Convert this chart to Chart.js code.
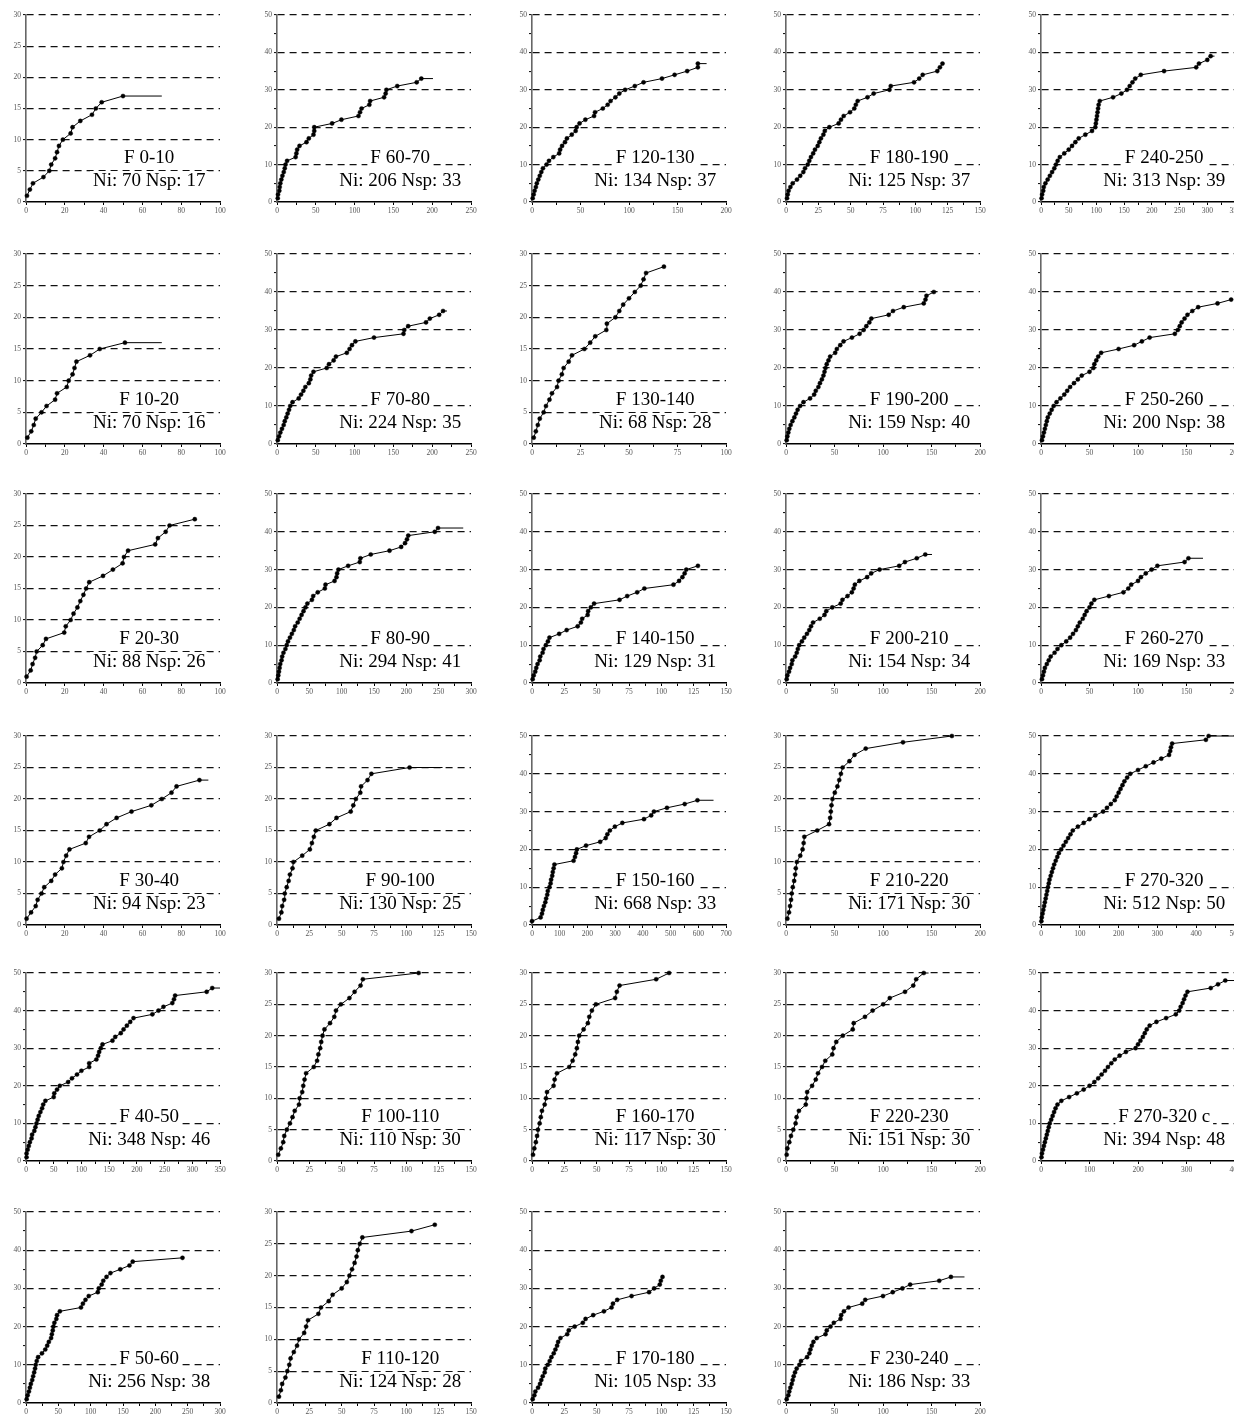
<!DOCTYPE html>
<html>
<head>
<meta charset="utf-8">
<script src="https://cdn.jsdelivr.net/npm/chart.js@4.4.0/dist/chart.umd.min.js"></script>
<style>
html,body{margin:0;padding:0;background:#fff;}
body{width:1234px;height:1414px;position:relative;overflow:hidden;}
.panel{position:absolute;}
.panel canvas{display:block;}
</style>
</head>
<body>
<script>
// species accumulation curves: [individuals, species]
const f0_10 = [[0.5,1],[2,2],[3.6,3],[9,4],[12,5],[13,6],[15,7],[16,8],[17,9],[19,10],[23,11],[24,12],[28,13],[34,14],[36,15],[39,16],[50,17]];
const f10_20 = [[0.7,1],[2.7,2],[4,3],[5,4],[8,5],[10.6,6],[15,7],[16,8],[21,9],[22,10],[24,11],[25,12],[26,13],[33,14],[38,15],[51,16]];
const f20_30 = [[0.3,1],[2.4,2],[3.4,3],[4.7,4],[5.5,5],[8.6,6],[10.3,7],[19.7,8],[20.5,9],[23,10],[24.5,11],[26.5,12],[28,13],[29.6,14],[31,15],[32.6,16],[39.7,17],[44.8,18],[49.8,19],[50.5,20],[52.6,21],[66.6,22],[68,23],[72,24],[74,25],[87,26]];
const f30_40 = [[0.3,1],[2.6,2],[5,3],[6,4],[8,5],[9.4,6],[13,7],[15,8],[18.5,9],[19.3,10],[20.7,11],[22.4,12],[30.8,13],[32.5,14],[38,15],[41.5,16],[46.7,17],[54.4,18],[64.6,19],[70,20],[75,21],[77.6,22],[89.4,23]];
const f40_50 = [[1,1],[1,2],[3,3],[5,4],[7,5],[10,6],[11,7],[15,8],[17,9],[19,10],[21,11],[23,12],[26,13],[29,14],[31,15],[35,16],[50,17],[51,18],[56,19],[61,20],[76,21],[83,22],[92,23],[100,24],[114,25],[114,26],[127,27],[130,28],[132,29],[135,30],[138,31],[156,32],[161,33],[171,34],[176,35],[182,36],[188,37],[194,38],[228,39],[239,40],[248,41],[264,42],[267,43],[269,44],[326,45],[336,46]];
const f50_60 = [[1,1],[2.5,2],[4.5,3],[6,4],[7.5,5],[9.6,6],[11,7],[12.6,8],[14,9],[15,10],[16.6,11],[18.7,12],[24.7,13],[29.8,14],[32.8,15],[35.3,16],[38.8,17],[40,18],[41.4,19],[42.4,20],[43.9,21],[46.9,22],[48,23],[52.4,24],[85,25],[88,26],[92,27],[97,28],[111,29],[112.5,30],[117,31],[119.5,32],[124.5,33],[130.6,34],[145.7,35],[160,36],[165,37],[242,38]];
const f60_70 = [[1,1],[1.3,2],[3,3],[3.5,4],[4.3,5],[5.6,6],[7,7],[8.7,8],[10,9],[11,10],[13,11],[24,12],[25,13],[26,14],[29,15],[38,16],[41,17],[47,18],[48,19],[48,20],[71,21],[83,22],[105,23],[107,24],[109,25],[119,26],[120,27],[138,28],[140,29],[141,30],[155,31],[180,32],[186,33]];
const f70_80 = [[1,1],[2.6,2],[4.3,3],[6.4,4],[8.6,5],[10,6],[12,7],[13.7,8],[15.5,9],[17,10],[20,11],[28,12],[31,13],[34,14],[36.5,15],[41,16],[43,17],[44,18],[47,19],[64,20],[67,21],[73,22],[76,23],[90,24],[93.5,25],[96.6,26],[101,27],[125,28],[163,29],[164,30],[169,31],[192,32],[197,33],[209,34],[214,35]];
const f80_90 = [[1,1],[2,2],[3,3],[4,4],[5,5],[7,6],[8,7],[10,8],[13,9],[15,10],[17,11],[20,12],[23,13],[26,14],[28,15],[32,16],[35,17],[38,18],[41,19],[44,20],[47,21],[54,22],[56,23],[63,24],[74,25],[75,26],[89,27],[92,28],[93,29],[95,30],[110,31],[128,32],[129,33],[145,34],[174,35],[192,36],[198,37],[201,38],[203,39],[244,40],[249,41]];
const f90_100 = [[1.5,1],[3.4,2],[4,3],[5.5,4],[6,5],[7.5,6],[9,7],[10,8],[12,9],[12.7,10],[19.5,11],[25.4,12],[27,13],[28.5,14],[30,15],[40.5,16],[46,17],[57,18],[59,19],[61,20],[64.4,21],[65,22],[70,23],[73,24],[102.5,25]];
const f100_110 = [[1,1],[3,2],[4.8,3],[5.6,4],[7.6,5],[10,6],[12,7],[13.7,8],[17,9],[17.5,10],[19.5,11],[20.3,12],[21.3,13],[22.5,14],[28.4,15],[31,16],[32,17],[33.4,18],[34.2,19],[35.2,20],[36.7,21],[41,22],[44.3,23],[45.6,24],[49.4,25],[56,26],[60,27],[64.6,28],[66.4,29],[109.5,30]];
const f110_120 = [[1.5,1],[3,2],[4,3],[6.5,4],[8,5],[9.5,6],[10.5,7],[13,8],[15.5,9],[17,10],[21,11],[22.5,12],[24,13],[32,14],[34,15],[40,16],[43,17],[50,18],[54,19],[56,20],[58,21],[60,22],[61.5,23],[62.5,24],[64,25],[66,26],[104,27],[122,28]];
const f120_130 = [[0.7,1],[1.7,2],[2.7,3],[4,4],[5,5],[6.5,6],[8,7],[9.6,8],[11.3,9],[15,10],[17.5,11],[22,12],[28,13],[29,14],[31,15],[34,16],[36,17],[41,18],[45,19],[46,20],[49,21],[55,22],[64,23],[65,24],[73,25],[78,26],[81,27],[86,28],[90,29],[96,30],[106,31],[115,32],[134,33],[147,34],[160,35],[171,36],[171,37]];
const f130_140 = [[0.9,1],[2,2],[3,3],[4,4],[6,5],[7.2,6],[9,7],[10.3,8],[12.9,9],[13.7,10],[15.4,11],[16.3,12],[18.9,13],[20.6,14],[27,15],[30,16],[32.6,17],[38.3,18],[38.6,19],[43,20],[45,21],[47,22],[50,23],[53,24],[56,25],[57.5,26],[58.8,27],[68,28]];
const f140_150 = [[0.5,1],[1.3,2],[2.5,3],[3.3,4],[4.3,5],[5.9,6],[6.4,7],[8.2,8],[8.9,9],[10.7,10],[12.3,11],[13.5,12],[21,13],[26.8,14],[35.3,15],[37.8,16],[38.8,17],[43,18],[43.4,19],[45.5,20],[48,21],[67.7,22],[73.6,23],[81.3,24],[86.9,25],[109.4,26],[113.7,27],[116.3,28],[118,29],[119.3,30],[128.3,31]];
const f150_160 = [[0,1],[31,2],[36,3],[39,4],[43,5],[48,6],[51,7],[55,8],[57,9],[63,10],[67,11],[69,12],[73,13],[75,14],[78,15],[81,16],[150,17],[155,18],[159,19],[162,20],[195,21],[246,22],[266,23],[272,24],[281,25],[299,26],[326,27],[404,28],[430,29],[440,30],[487,31],[551,32],[597,33]];
const f160_170 = [[0.8,1],[1.8,2],[3,3],[3.9,4],[4.6,5],[5.9,6],[6.8,7],[7.7,8],[9.8,9],[10.8,10],[11.6,11],[16.7,12],[17.5,13],[19.3,14],[28.8,15],[31.4,16],[33.4,17],[34.7,18],[35.5,19],[36.5,20],[39.9,21],[43.2,22],[44.3,23],[46.3,24],[49.4,25],[64.3,26],[65.6,27],[67.7,28],[96,29],[106,30]];
const f170_180 = [[0.5,1],[1.8,2],[2.6,3],[4.7,4],[6.2,5],[7.2,6],[8.3,7],[9.8,8],[10.3,9],[12.2,10],[13.7,11],[15,12],[16.8,13],[18.1,14],[19.4,15],[20.2,16],[22,17],[27.2,18],[28.4,19],[33,20],[39.3,21],[41.4,22],[47.3,23],[55.6,24],[61.5,25],[62.6,26],[65.9,27],[77,28],[90.5,29],[94.4,30],[98.8,31],[99.6,32],[100.9,33]];
const f180_190 = [[0.8,1],[1.3,2],[2,3],[3.4,4],[5.2,5],[8.5,6],[11,7],[13.4,8],[14.7,9],[16.8,10],[18,11],[19.3,12],[21,13],[22.4,14],[24.5,15],[25.8,16],[27,17],[28.9,18],[30,19],[33.5,20],[40.7,21],[42.5,22],[44.6,23],[49.5,24],[52.8,25],[54,26],[55.4,27],[63,28],[67.8,29],[80,30],[81,31],[99,32],[103,33],[105.7,34],[117,35],[119,36],[121,37]];
const f190_200 = [[0.7,1],[1.4,2],[2.4,3],[3.4,4],[4.8,5],[6.6,6],[8.6,7],[10.3,8],[12,9],[14.5,10],[18,11],[24.8,12],[29,13],[30.7,14],[33.4,15],[35,16],[37,17],[38.6,18],[39.7,19],[40.7,20],[42,21],[43.8,22],[45.5,23],[50.7,24],[52.4,25],[55.9,26],[59.3,27],[68,28],[75.9,29],[80,30],[82.8,31],[85.9,32],[88,33],[105.9,34],[110.3,35],[121.4,36],[142,37],[143.8,38],[144.8,39],[152.4,40]];
const f200_210 = [[0.7,1],[1.4,2],[3.1,3],[4.2,4],[5.9,5],[6.6,6],[9.4,7],[11.1,8],[12.2,9],[13.6,10],[16.4,11],[18.8,12],[21.6,13],[24,14],[25.8,15],[27.9,16],[34.8,17],[39.7,18],[41.5,19],[47.7,20],[56.4,21],[58.2,22],[63.4,23],[67.9,24],[69.7,25],[71,26],[75.6,27],[83.6,28],[87.8,29],[96.5,30],[116.7,31],[122.6,32],[134.8,33],[143.6,34]];
const f210_220 = [[1.4,1],[3.1,2],[4.2,3],[5.2,4],[5.9,5],[7,6],[8.4,7],[9.4,8],[10.1,9],[11.2,10],[14.7,11],[17.1,12],[18.2,13],[18.9,14],[32.2,15],[44.4,16],[45.5,17],[46.2,18],[46.9,19],[47.9,20],[50.3,21],[53,22],[54.9,23],[56.6,24],[58.4,25],[65.4,26],[70.6,27],[82.2,28],[120.6,29],[171,30]];
const f220_230 = [[0.7,1],[1.4,2],[3.4,3],[5.1,4],[7.5,5],[9.9,6],[10.9,7],[13.3,8],[20.4,9],[21.1,10],[21.8,11],[26.9,12],[30.7,13],[33,14],[37.1,15],[40.5,16],[47.7,17],[49,18],[51.8,19],[58.6,20],[68.8,21],[69.8,22],[81.4,23],[89.3,24],[100.2,25],[107,26],[122.7,27],[131.2,28],[134.2,29],[142,30]];
const f230_240 = [[0.7,1],[2.4,2],[3.4,3],[4.5,4],[5.9,5],[6.9,6],[7.9,7],[9.3,8],[11,9],[13.8,10],[15.5,11],[21.7,12],[24.1,13],[25.2,14],[26.6,15],[28.3,16],[31.7,17],[40.7,18],[42,19],[45.9,20],[49.3,21],[56.2,22],[56.9,23],[59.7,24],[64.5,25],[78.6,26],[81.7,27],[100,28],[110,29],[120,30],[128,31],[158,32],[170,33]];
const f240_250 = [[1,1],[2,2],[4,3],[5,4],[8,5],[12,6],[16,7],[20,8],[24,9],[27,10],[30,11],[34,12],[42,13],[50,14],[56,15],[62,16],[68,17],[80,18],[92,19],[98,20],[99,21],[100,22],[101,23],[102,24],[103,25],[104,26],[106,27],[130,28],[145,29],[155,30],[160,31],[165,32],[170,33],[180,34],[222,35],[280,36],[285,37],[300,38],[306,39]];
const f250_260 = [[1,1],[2,2],[3,3],[4,4],[5,5],[6,6],[7,7],[9,8],[11,9],[13,10],[16,11],[20,12],[24,13],[27,14],[30,15],[34,16],[38,17],[42,18],[50,19],[54,20],[55,21],[57,22],[59,23],[62,24],[80,25],[96,26],[104,27],[112,28],[138,29],[141,30],[143,31],[145,32],[148,33],[151,34],[156,35],[162,36],[182,37],[196,38]];
const f260_270 = [[1,1],[2,2],[3,3],[4,4],[6,5],[8,6],[10,7],[14,8],[17,9],[21,10],[26,11],[30,12],[33,13],[36,14],[38,15],[40,16],[43,17],[45,18],[47,19],[50,20],[52,21],[55,22],[70,23],[85,24],[90,25],[93,26],[100,27],[103,28],[108,29],[114,30],[120,31],[148,32],[152,33]];
const f270_320 = [[1,1],[2,2],[4,3],[6,4],[8,5],[10,6],[12,7],[14,8],[16,9],[18,10],[20,11],[22,12],[25,13],[28,14],[31,15],[34,16],[38,17],[42,18],[46,19],[52,20],[58,21],[64,22],[70,23],[76,24],[82,25],[95,26],[110,27],[125,28],[140,29],[160,30],[170,31],[180,32],[190,33],[195,34],[200,35],[205,36],[210,37],[215,38],[222,39],[230,40],[250,41],[270,42],[290,43],[310,44],[330,45],[333,46],[335,47],[338,48],[425,49],[432,50]];
const f270_320c = [[1,1],[2,2],[4,3],[6,4],[8,5],[10,6],[12,7],[14,8],[16,9],[18,10],[21,11],[24,12],[27,13],[30,14],[34,15],[42,16],[58,17],[74,18],[88,19],[100,20],[110,21],[118,22],[125,23],[132,24],[138,25],[145,26],[152,27],[162,28],[175,29],[195,30],[200,31],[205,32],[210,33],[214,34],[218,35],[224,36],[238,37],[258,38],[278,39],[285,40],[288,41],[292,42],[295,43],[298,44],[302,45],[350,46],[365,47],[380,48]];

// panel titles, Ni / Nsp, flat tail end, axis maxima and label steps
const panels = [
  // column 1
  {name:'F 0-10', ni:70, nsp:17, pts:f0_10, tail:70, xmax:100, xstep:20, ymax:30, ystep:5},
  {name:'F 10-20', ni:70, nsp:16, pts:f10_20, tail:70, xmax:100, xstep:20, ymax:30, ystep:5},
  {name:'F 20-30', ni:88, nsp:26, pts:f20_30, tail:null, xmax:100, xstep:20, ymax:30, ystep:5},
  {name:'F 30-40', ni:94, nsp:23, pts:f30_40, tail:94, xmax:100, xstep:20, ymax:30, ystep:5},
  {name:'F 40-50', ni:348, nsp:46, pts:f40_50, tail:350, xmax:350, xstep:50, ymax:50, ystep:10},
  {name:'F 50-60', ni:256, nsp:38, pts:f50_60, tail:null, xmax:300, xstep:50, ymax:50, ystep:10},
  // column 2
  {name:'F 60-70', ni:206, nsp:33, pts:f60_70, tail:201, xmax:250, xstep:50, ymax:50, ystep:10},
  {name:'F 70-80', ni:224, nsp:35, pts:f70_80, tail:219, xmax:250, xstep:50, ymax:50, ystep:10},
  {name:'F 80-90', ni:294, nsp:41, pts:f80_90, tail:288, xmax:300, xstep:50, ymax:50, ystep:10},
  {name:'F 90-100', ni:130, nsp:25, pts:f90_100, tail:128, xmax:150, xstep:25, ymax:30, ystep:5},
  {name:'F 100-110', ni:110, nsp:30, pts:f100_110, tail:null, xmax:150, xstep:25, ymax:30, ystep:5},
  {name:'F 110-120', ni:124, nsp:28, pts:f110_120, tail:null, xmax:150, xstep:25, ymax:30, ystep:5},
  // column 3
  {name:'F 120-130', ni:134, nsp:37, pts:f120_130, tail:180, xmax:200, xstep:50, ymax:50, ystep:10},
  {name:'F 130-140', ni:68, nsp:28, pts:f130_140, tail:null, xmax:100, xstep:25, ymax:30, ystep:5},
  {name:'F 140-150', ni:129, nsp:31, pts:f140_150, tail:null, xmax:150, xstep:25, ymax:50, ystep:10},
  {name:'F 150-160', ni:668, nsp:33, pts:f150_160, tail:655, xmax:700, xstep:100, ymax:50, ystep:10},
  {name:'F 160-170', ni:117, nsp:30, pts:f160_170, tail:null, xmax:150, xstep:25, ymax:30, ystep:5},
  {name:'F 170-180', ni:105, nsp:33, pts:f170_180, tail:null, xmax:150, xstep:25, ymax:50, ystep:10},
  // column 4
  {name:'F 180-190', ni:125, nsp:37, pts:f180_190, tail:null, xmax:150, xstep:25, ymax:50, ystep:10},
  {name:'F 190-200', ni:159, nsp:40, pts:f190_200, tail:null, xmax:200, xstep:50, ymax:50, ystep:10},
  {name:'F 200-210', ni:154, nsp:34, pts:f200_210, tail:150.5, xmax:200, xstep:50, ymax:50, ystep:10},
  {name:'F 210-220', ni:171, nsp:30, pts:f210_220, tail:null, xmax:200, xstep:50, ymax:30, ystep:5},
  {name:'F 220-230', ni:151, nsp:30, pts:f220_230, tail:147, xmax:200, xstep:50, ymax:30, ystep:5},
  {name:'F 230-240', ni:186, nsp:33, pts:f230_240, tail:184, xmax:200, xstep:50, ymax:50, ystep:10},
  // column 5
  {name:'F 240-250', ni:313, nsp:39, pts:f240_250, tail:313, xmax:350, xstep:50, ymax:50, ystep:10},
  {name:'F 250-260', ni:200, nsp:38, pts:f250_260, tail:null, xmax:200, xstep:50, ymax:50, ystep:10},
  {name:'F 260-270', ni:169, nsp:33, pts:f260_270, tail:167, xmax:200, xstep:50, ymax:50, ystep:10},
  {name:'F 270-320', ni:512, nsp:50, pts:f270_320, tail:500, xmax:500, xstep:100, ymax:50, ystep:10},
  {name:'F 270-320 c', ni:394, nsp:48, pts:f270_320c, tail:400, xmax:400, xstep:100, ymax:50, ystep:10}
];

// page grid (plot-area edges in px)
const colLeft = [26, 277, 532, 786, 1041];
const plotWidth = 194;
const rowTop = [15, 254, 494, 736, 973, 1212];
const rowBottom = [202, 444, 683, 925, 1161, 1403];
const PAD_L = 22, PAD_T = 7, PAD_R = 12, PAD_B = 14;

const tickFont = {family: '"Liberation Serif", "Times New Roman", serif', size: 7.5};

// white-backed two-line caption inside the plot
const captionPlugin = {
  id: 'caption',
  beforeDatasetsDraw(chart, args, opts) {
    const {ctx, chartArea: a} = chart;
    const cx = a.left + a.width * 0.635;
    ctx.save();
    ctx.font = '19px "Liberation Serif", "Times New Roman", serif';
    ctx.textAlign = 'center';
    ctx.textBaseline = 'middle';
    [[opts.title, a.bottom - 44], [opts.sub, a.bottom - 21]].forEach(([t, y]) => {
      const w = ctx.measureText(t).width;
      ctx.fillStyle = '#fff';
      ctx.fillRect(cx - w / 2 - 3, y - 10, w + 6, 20);
      ctx.fillStyle = '#000';
      ctx.fillText(t, cx, y);
    });
    ctx.restore();
  }
};

panels.forEach((p, i) => {
  const col = Math.floor(i / 6), row = i % 6;
  const h = rowBottom[row] - rowTop[row];
  const cw = plotWidth + PAD_L + PAD_R, ch = h + PAD_T + PAD_B;

  const div = document.createElement('div');
  div.className = 'panel';
  div.style.left = (colLeft[col] - PAD_L) + 'px';
  div.style.top = (rowTop[row] - PAD_T) + 'px';
  const cv = document.createElement('canvas');
  cv.width = cw; cv.height = ch;
  cv.style.width = cw + 'px'; cv.style.height = ch + 'px';
  div.appendChild(cv);
  document.body.appendChild(div);

  const pts = p.pts.map(([x, y]) => ({x, y}));
  if (p.tail !== null) pts.push({x: p.tail, y: p.nsp});
  const last = pts.length - 1;

  new Chart(cv, {
    type: 'scatter',
    data: {
      datasets: [{
        data: pts,
        showLine: true,
        borderColor: '#000',
        borderWidth: 1,
        pointRadius: c => (p.tail !== null && c.dataIndex === last) ? 0 : 2.1,
        pointBackgroundColor: '#000',
        pointBorderColor: '#000',
        pointBorderWidth: 0.4,
        clip: 4
      }]
    },
    options: {
      responsive: false,
      animation: false,
      devicePixelRatio: 1,
      layout: {padding: {left: 0, top: PAD_T, right: PAD_R, bottom: 0}},
      plugins: {
        legend: {display: false},
        tooltip: {enabled: false},
        caption: {title: p.name, sub: 'Ni: ' + p.ni + ' Nsp: ' + p.nsp}
      },
      scales: {
        x: {
          type: 'linear', min: 0, max: p.xmax,
          afterFit: s => { s.height = PAD_B; },
          ticks: {
            stepSize: p.xstep / 2, autoSkip: false, maxRotation: 0, padding: 2,
            font: tickFont, color: '#555',
            callback: v => (v % p.xstep === 0 ? v : '')
          },
          grid: {drawOnChartArea: false, drawTicks: true, tickLength: 3, tickColor: '#000', tickWidth: 1},
          border: {color: '#000', width: 1.5}
        },
        y: {
          type: 'linear', min: 0, max: p.ymax,
          afterFit: s => { s.width = PAD_L; },
          ticks: {
            stepSize: 5, autoSkip: false, padding: 2,
            font: tickFont, color: '#555',
            callback: v => (v % p.ystep === 0 ? v : '')
          },
          grid: {
            color: c => (c.tick && c.tick.value > 0 && c.tick.value % p.ystep === 0) ? '#111' : 'rgba(0,0,0,0)',
            lineWidth: 1.2,
            drawTicks: true, tickLength: 3, tickColor: '#000', tickWidth: 1, tickBorderDash: []
          },
          border: {color: '#666', width: 1.6, dash: [7, 5]}
        }
      }
    },
    plugins: [captionPlugin]
  });
});
</script>
</body>
</html>
